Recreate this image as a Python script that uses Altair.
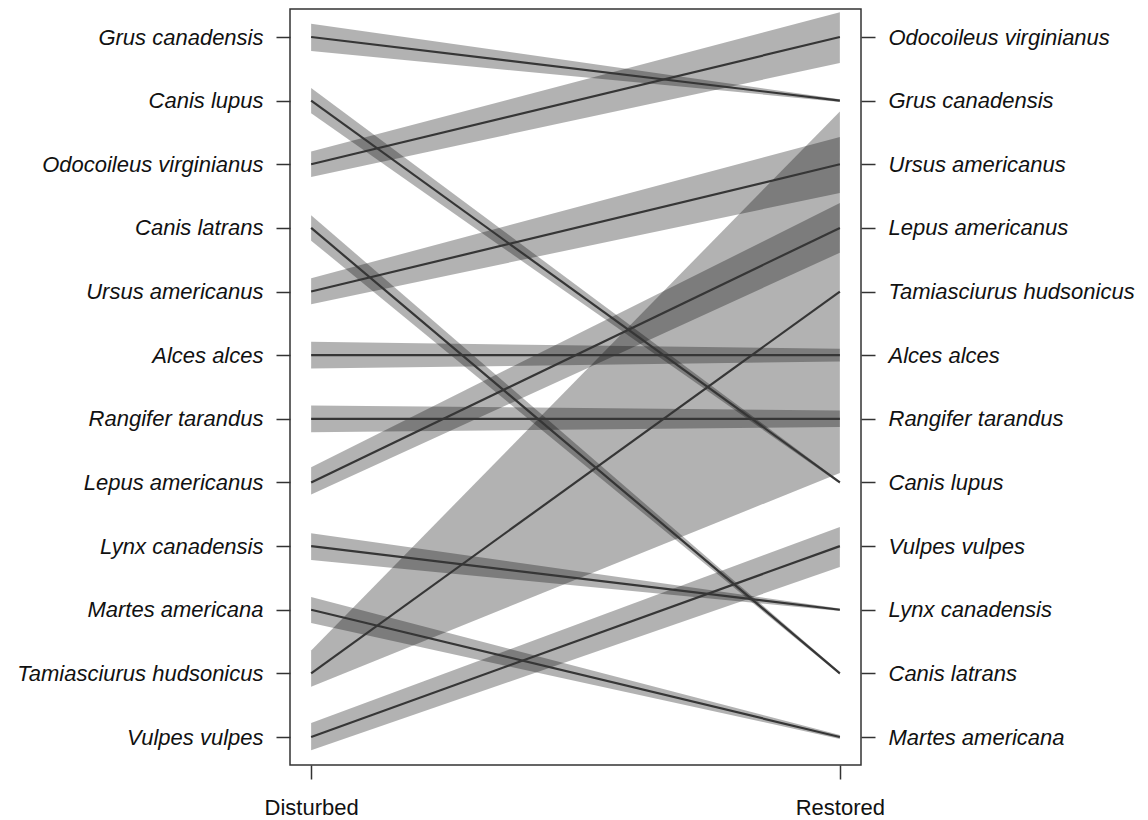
import altair as alt
import pandas as pd

species = [
    "Grus canadensis", "Canis lupus", "Odocoileus virginianus", "Canis latrans",
    "Ursus americanus", "Alces alces", "Rangifer tarandus", "Lepus americanus",
    "Lynx canadensis", "Martes americana", "Tamiasciurus hudsonicus", "Vulpes vulpes",
]
# rank in Disturbed (left) and Restored (right)
rank_disturbed = [1, 2, 3, 4, 5, 6, 7, 8, 9, 10, 11, 12]
rank_restored = [2, 8, 1, 11, 3, 6, 7, 4, 10, 12, 5, 9]
# band edges (in rank units) at each end
dist_upper = [0.79, 1.80, 2.80, 3.80, 4.79, 5.79, 6.79, 7.76, 8.80, 9.80, 10.64, 11.78]
dist_lower = [1.22, 2.20, 3.20, 4.20, 5.20, 6.21, 7.21, 8.19, 9.22, 10.21, 11.21, 12.21]
rest_upper = [1.98, 7.98, 0.61, 10.98, 2.57, 5.90, 6.87, 3.61, 9.98, 11.97, 2.17, 8.70]
rest_lower = [2.02, 8.02, 1.41, 11.02, 3.45, 6.10, 7.13, 4.39, 10.02, 12.03, 7.85, 9.33]

conditions = ["Disturbed", "Restored"]

rows = []
for i, s in enumerate(species):
    rows.append(dict(species=s, x=0, rank=rank_disturbed[i], upper=dist_upper[i], lower=dist_lower[i]))
    rows.append(dict(species=s, x=1, rank=rank_restored[i], upper=rest_upper[i], lower=rest_lower[i]))
df = pd.DataFrame(rows)

left_names = [None] * 12
right_names = [None] * 12
for i, s in enumerate(species):
    left_names[rank_disturbed[i] - 1] = s
    right_names[rank_restored[i] - 1] = s

def arr_expr(names):
    return "[" + ",".join("'" + n + "'" for n in names) + "][round(datum.value) - 1]"

FONT = "Liberation Sans"
yscale = alt.Scale(domain=[0.56, 12.44], reverse=True, nice=False, zero=False)
xscale = alt.Scale(domain=[-0.04, 1.04], nice=False, zero=False)

xaxis = alt.Axis(
    values=[0, 1], labelExpr="datum.value == 0 ? '" + conditions[0] + "' : '" + conditions[1] + "'",
    title=None, grid=False, domain=False, tickSize=14, tickWidth=1.5, tickColor="#333333",
    labelFont=FONT, labelFontSize=22, labelColor="#111111", labelPadding=18, labelLimit=0,
)

common_y = dict(
    values=list(range(1, 13)), title=None, grid=False, domain=False, tickSize=14,
    tickWidth=1.5, tickColor="#333333", labelFont=FONT, labelFontSize=22,
    labelFontStyle="italic", labelColor="#111111", labelPadding=13, labelLimit=0,
)

bands = alt.Chart(df).mark_area(color="#000000", opacity=0.3, orient="vertical").encode(
    x=alt.X("x:Q", scale=xscale, axis=xaxis),
    y=alt.Y("upper:Q", scale=yscale, axis=alt.Axis(orient="right", labelExpr=arr_expr(right_names), **common_y)),
    y2="lower:Q",
    detail="species:N",
)

lines = alt.Chart(df).mark_line(color="#363636", strokeWidth=2.2).encode(
    x=alt.X("x:Q", scale=xscale, axis=xaxis),
    y=alt.Y("rank:Q", scale=yscale, axis=alt.Axis(orient="left", labelExpr=arr_expr(left_names), **common_y)),
    detail="species:N",
)

chart = alt.layer(bands, lines).resolve_axis(y="independent").properties(
    width=571, height=756,
    padding={"top": 1, "left": 8, "right": 0, "bottom": 0},
).configure_view(stroke="#333333", strokeWidth=1.5)

chart.save("out.html", embed_options={"renderer": "svg", "actions": False})
